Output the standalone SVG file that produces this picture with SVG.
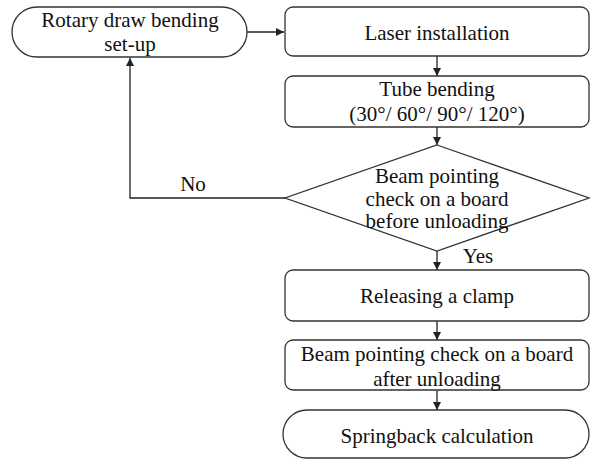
<svg xmlns="http://www.w3.org/2000/svg" width="594" height="462" viewBox="0 0 594 462">
  <style>
    .box { fill: #fff; stroke: #333; stroke-width: 1.3; }
    .lbl { font-size: 21px; fill: #111; text-anchor: middle; }
    .edge { fill: none; stroke: #222; stroke-width: 1.3; marker-end: url(#arr); }
  </style>
  <defs>
    <marker id="arr" viewBox="0 0 10 10" refX="10" refY="5" markerWidth="8" markerHeight="8" markerUnits="userSpaceOnUse" orient="auto">
      <path d="M0,0 L10,5 L0,10 z" fill="#222"/>
    </marker>
  </defs>

  <g font-family="Liberation Serif, Tinos, Times New Roman, Times, DejaVu Serif, serif">
  <g id="connectors">
    <path class="edge" d="M247,32 H284"/>
    <path class="edge" d="M437,56 V76"/>
    <path class="edge" d="M437,127 V145"/>
    <path class="edge" d="M285,198 H130 V58"/>
    <path class="edge" d="M437,251 V270"/>
    <path class="edge" d="M437,321 V340"/>
    <path class="edge" d="M437,390 V410"/>
    <text class="lbl" x="193" y="191">No</text>
    <text class="lbl" x="478" y="263">Yes</text>
  </g>

  <g id="setup">
    <rect class="box" x="12" y="7" width="235" height="50" rx="25"/>
    <text class="lbl" x="130" y="27">Rotary draw bending</text>
    <text class="lbl" x="130" y="51">set-up</text>
  </g>

  <g id="laser">
    <rect class="box" x="285" y="7" width="304" height="49" rx="8"/>
    <text class="lbl" x="437" y="40">Laser installation</text>
  </g>

  <g id="bending">
    <rect class="box" x="285" y="76" width="304" height="51" rx="8"/>
    <text class="lbl" x="437" y="96">Tube bending</text>
    <text class="lbl" x="437" y="121">(30°/ 60°/ 90°/ 120°)</text>
  </g>

  <g id="check-before">
    <polygon class="box" points="437,145 589,198 437,251 285,198"/>
    <text class="lbl" x="437" y="183">Beam pointing</text>
    <text class="lbl" x="437" y="206">check on a board</text>
    <text class="lbl" x="437" y="228">before unloading</text>
  </g>

  <g id="release">
    <rect class="box" x="285" y="270" width="304" height="51" rx="8"/>
    <text class="lbl" x="437" y="303">Releasing a clamp</text>
  </g>

  <g id="check-after">
    <rect class="box" x="285" y="340" width="304" height="50" rx="8"/>
    <text class="lbl" x="437" y="361">Beam pointing check on a board</text>
    <text class="lbl" x="437" y="386">after unloading</text>
  </g>

  <g id="springback">
    <rect class="box" x="283" y="410" width="306" height="48" rx="24"/>
    <text class="lbl" x="437" y="443">Springback calculation</text>
  </g>
  </g>
</svg>
